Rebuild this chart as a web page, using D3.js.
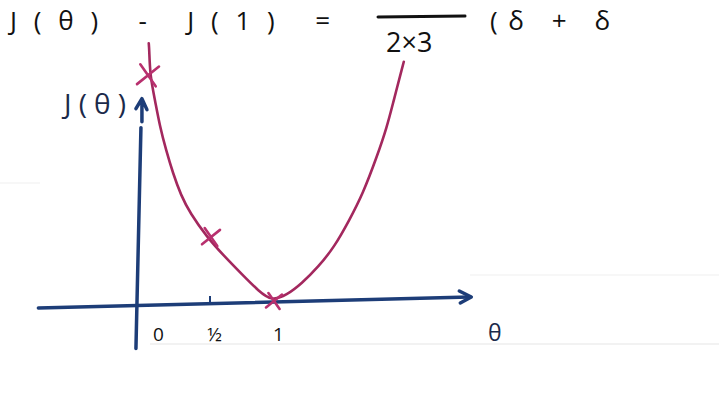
<!DOCTYPE html>
<html>
<head>
<meta charset="utf-8">
<script src="https://cdn.jsdelivr.net/npm/d3@7"></script>
<style>
  html, body { margin: 0; padding: 0; background: #ffffff; }
  svg { display: block; }
  text { font-family: "Open Sans", "DejaVu Sans", sans-serif; }
</style>
</head>
<body>
<svg id="chart" width="719" height="407"></svg>
<script>
// ---- data ----
const markTheta = [0, 0.5, 1];
const markJ = [2.33, 0.66, 0];

const curveTheta = [0.006, 0.010, 0.016, 0.056, 0.095, 0.143, 0.198, 0.262, 0.333, 0.468, 0.60, 0.75, 0.88, 0.984, 1.10, 1.22, 1.35, 1.48, 1.60, 1.706, 1.817, 1.897, 1.944, 2.024, 2.03];
const curveJ     = [2.66, 2.60, 2.33, 2.07, 1.80, 1.56, 1.32, 1.09, 0.91, 0.66, 0.47, 0.27, 0.10, 0.0, 0.06, 0.18, 0.35, 0.56, 0.84, 1.11, 1.49, 1.80, 2.04, 2.44, 2.47];

const tickValues = [0, 0.5, 1];
const tickLabels = ["0", "½", "1"];
const xAxisRange = [-0.87, 2.55];
const yAxisRange = [-0.49, 1.79];

// ---- layout ----
const svg = d3.select("#chart");
const x = d3.scaleLinear().domain([0, 1]).range([148, 274]);
const y = d3.scaleLinear().domain([0, 7 / 3]).range([301, 75]);

const navy = "#1d3d78";
const curveColor = "#a3285e";
const markColor = "#b8306e";

// faint whiteboard lines
svg.append("line").attr("x1", 150).attr("x2", 719).attr("y1", 344).attr("y2", 344)
  .attr("stroke", "#e6e6e6").attr("stroke-width", 1.2);
svg.append("line").attr("x1", 470).attr("x2", 719).attr("y1", 275).attr("y2", 275)
  .attr("stroke", "#efefef").attr("stroke-width", 1);
svg.append("line").attr("x1", 0).attr("x2", 40).attr("y1", 183).attr("y2", 183)
  .attr("stroke", "#efefef").attr("stroke-width", 1);

// top formula
svg.append("text").attr("x", 10).attr("y", 30).attr("font-size", 26).attr("fill", "#111")
  .attr("textLength", 320).attr("lengthAdjust", "spacing")
  .text("J(θ) - J(1) =");
svg.append("line").attr("x1", 378).attr("x2", 465).attr("y1", 17).attr("y2", 16)
  .attr("stroke", "#111").attr("stroke-width", 3).attr("stroke-linecap", "round");
svg.append("text").attr("x", 386).attr("y", 52).attr("font-size", 27).attr("fill", "#111")
  .text("2×3");
svg.append("text").attr("x", 490).attr("y", 30).attr("font-size", 26).attr("fill", "#111")
  .attr("textLength", 120).attr("lengthAdjust", "spacing")
  .text("(δ + δ");

// x axis line (hand drawn, with arrow)
const x0 = x(xAxisRange[0]), x1 = x(xAxisRange[1]);
svg.append("path")
  .attr("d", `M${x0},${y(0) + 7} L${x1},${y(0) - 4}`)
  .attr("stroke", navy).attr("stroke-width", 3.5).attr("fill", "none").attr("stroke-linecap", "round");
svg.append("path")
  .attr("d", `M${x1 - 10},${y(0) - 10} L${x1 + 2},${y(0) - 4} L${x1 - 9},${y(0) + 2}`)
  .attr("stroke", navy).attr("stroke-width", 3.5).attr("fill", "none")
  .attr("stroke-linecap", "round").attr("stroke-linejoin", "round");

// x axis ticks & labels through d3 axis
const axis = d3.axisBottom(x).tickValues(tickValues)
  .tickFormat((d, i) => tickLabels[i]).tickSize(0).tickPadding(0);
const gx = svg.append("g").attr("transform", `translate(0, ${y(0)})`).call(axis);
gx.select(".domain").remove();
gx.selectAll("text")
  .attr("font-size", 19).attr("fill", "#111").attr("dy", 0).attr("y", 40)
  .attr("dx", (d, i) => [10, 3, 4][i]);
// small tick mark at 1/2
svg.append("line").attr("x1", x(0.5) - 1).attr("x2", x(0.5) - 1)
  .attr("y1", y(0) - 5).attr("y2", y(0) + 2)
  .attr("stroke", navy).attr("stroke-width", 2);

// y axis (vertical line with gap then arrow head)
const yAx = x(-0.064);
svg.append("path")
  .attr("d", `M${yAx - 4},${y(yAxisRange[0])} L${yAx + 1},${y(yAxisRange[1])}`)
  .attr("stroke", navy).attr("stroke-width", 3.5).attr("fill", "none").attr("stroke-linecap", "round");
svg.append("path")
  .attr("d", `M${yAx + 2},${y(yAxisRange[1]) - 6} L${yAx + 2},${y(yAxisRange[1]) - 28}
              M${yAx - 4},${y(yAxisRange[1]) - 19} L${yAx + 2},${y(yAxisRange[1]) - 29} L${yAx + 7},${y(yAxisRange[1]) - 18}`)
  .attr("stroke", navy).attr("stroke-width", 3.5).attr("fill", "none")
  .attr("stroke-linecap", "round").attr("stroke-linejoin", "round");

// labels
svg.append("text").attr("x", 64).attr("y", 114).attr("font-size", 28).attr("fill", "#1b2a4a")
  .attr("textLength", 62).attr("lengthAdjust", "spacing")
  .text("J(θ)");
svg.append("text").attr("x", 488).attr("y", 341).attr("font-size", 23).attr("fill", "#1b2a4a")
  .text("θ");

// curve
const pts = curveTheta.map((t, i) => [t, curveJ[i]]);
const line = d3.line().x(d => x(d[0])).y(d => y(d[1])).curve(d3.curveBasis);
svg.append("path").datum(pts).attr("d", line)
  .attr("fill", "none").attr("stroke", curveColor).attr("stroke-width", 2.6)
  .attr("stroke-linecap", "round");

// X marks
const markSize = [11, 9, 8];
svg.selectAll("path.mark").data(markTheta).join("path").attr("class", "mark")
  .attr("d", (d, i) => {
    const cx = x(d), cy = y(markJ[i]), s = markSize[i];
    return `M${cx - s * 0.7},${cy - s} L${cx + s * 0.7},${cy + s} M${cx + s},${cy - s * 0.8} L${cx - s},${cy + s * 0.8}`;
  })
  .attr("stroke", markColor).attr("stroke-width", 2.6).attr("fill", "none").attr("stroke-linecap", "round");
</script>
</body>
</html>
